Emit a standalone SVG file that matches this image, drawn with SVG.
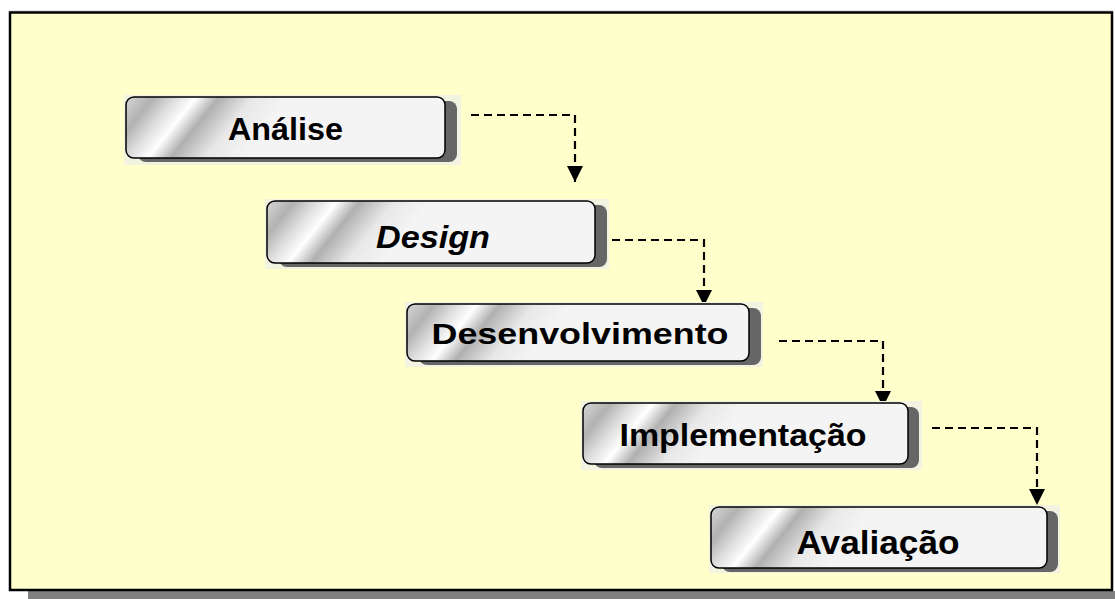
<svg xmlns="http://www.w3.org/2000/svg" width="1115" height="599" viewBox="0 0 1115 599">
  <defs>
    <!-- metallic diagonal sheen on the left end of each step box -->
    <linearGradient id="sheen" gradientUnits="userSpaceOnUse" x1="0" y1="0" x2="100" y2="80">
      <stop offset="0" stop-color="#d6d6d6"/>
      <stop offset="0.17" stop-color="#b2b2b2"/>
      <stop offset="0.3" stop-color="#dcdcdc"/>
      <stop offset="0.43" stop-color="#ffffff"/>
      <stop offset="0.57" stop-color="#b0b0b0"/>
      <stop offset="0.78" stop-color="#e8e8e8"/>
      <stop offset="1" stop-color="#f4f4f4"/>
    </linearGradient>
    <marker id="arrow" markerUnits="userSpaceOnUse" markerWidth="18" markerHeight="18" refX="16" refY="8" orient="auto">
      <path d="M0,0 L16,8 L0,16 Z" fill="#000"/>
    </marker>
  </defs>
  <style>
    .halo { fill: #f3f3e2; }
    .shadow { fill: #666666; }
    .box { fill: url(#sheen); stroke: #000; stroke-width: 1.5; }
    .label { font-family: "Liberation Sans", Arial, sans-serif; font-weight: bold; fill: #000; text-anchor: middle; }
    .flow { fill: none; stroke: #000; stroke-width: 2.2; stroke-dasharray: 8 5; marker-end: url(#arrow); }
  </style>

  <!-- page frame -->
  <rect x="28" y="591" width="1087" height="8" fill="#808080"/>
  <line x1="10" y1="11" x2="1113" y2="11" stroke="#c8c8c8" stroke-width="1"/>
  <rect x="10" y="12.5" width="1102" height="577.5" fill="#ffffcc" stroke="#000" stroke-width="2.5"/>

  <!-- connectors -->
  <g id="connectors">
    <path class="flow" d="M471,115 H575 V182"/>
    <path class="flow" d="M599,240 H704 V306"/>
    <path class="flow" d="M779,341 H883 V407"/>
    <path class="flow" d="M932,428 H1037 V505"/>
  </g>

  <!-- steps -->
  <g id="analise" transform="translate(126,97)">
    <rect class="halo" x="-2" y="-2" width="337" height="70"/>
    <rect class="shadow" x="12" y="4" width="319" height="61" rx="8"/>
    <rect class="box" x="0" y="0" width="319" height="61" rx="8"/>
    <text class="label" x="159.5" y="43" font-size="31" textLength="115" lengthAdjust="spacingAndGlyphs">Análise</text>
  </g>

  <g id="design" transform="translate(267,201)">
    <rect class="halo" x="-2" y="-2" width="344" height="70"/>
    <rect class="shadow" x="12" y="4" width="328" height="62" rx="8"/>
    <rect class="box" x="0" y="0" width="328" height="62" rx="8"/>
    <text class="label" x="166" y="47" font-size="31" font-style="italic" textLength="114" lengthAdjust="spacingAndGlyphs">Design</text>
  </g>

  <g id="desenvolvimento" transform="translate(407,304)">
    <rect class="halo" x="-2" y="-2" width="358" height="65"/>
    <rect class="shadow" x="12" y="4" width="342" height="57" rx="8"/>
    <rect class="box" x="0" y="0" width="342" height="57" rx="8"/>
    <text class="label" x="173" y="40" font-size="29" textLength="297" lengthAdjust="spacingAndGlyphs">Desenvolvimento</text>
  </g>

  <g id="implementacao" transform="translate(583,403)">
    <rect class="halo" x="-2" y="-2" width="341" height="69"/>
    <rect class="shadow" x="11" y="4" width="325" height="61" rx="8"/>
    <rect class="box" x="0" y="0" width="325" height="61" rx="8"/>
    <text class="label" x="160" y="43" font-size="32" textLength="247" lengthAdjust="spacingAndGlyphs">Implementação</text>
  </g>

  <g id="avaliacao" transform="translate(711,507)">
    <rect class="halo" x="-2" y="-2" width="351" height="68"/>
    <rect class="shadow" x="11" y="4" width="336" height="61" rx="8"/>
    <rect class="box" x="0" y="0" width="336" height="61" rx="8"/>
    <text class="label" x="167" y="47" font-size="33" textLength="163" lengthAdjust="spacingAndGlyphs">Avaliação</text>
  </g>
</svg>
